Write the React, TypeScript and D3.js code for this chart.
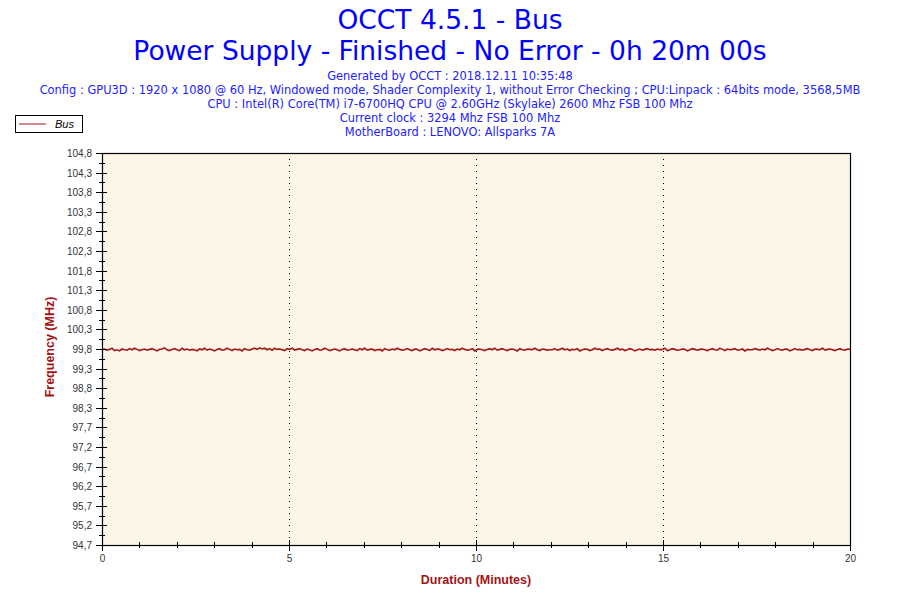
import * as d3 from "d3";

const titleLines = ["OCCT 4.5.1 - Bus", "Power Supply - Finished - No Error - 0h 20m 00s"];
const infoLines = [
  "Generated by OCCT : 2018.12.11 10:35:48",
  "Config : GPU3D : 1920 x 1080 @ 60 Hz, Windowed mode, Shader Complexity 1, without Error Checking ; CPU:Linpack : 64bits mode, 3568,5MB",
  "CPU : Intel(R) Core(TM) i7-6700HQ CPU @ 2.60GHz (Skylake) 2600 Mhz FSB 100 Mhz",
  "Current clock : 3294 Mhz FSB 100 Mhz",
  "MotherBoard : LENOVO: Allsparks 7A",
];
const seriesName = "Bus";
const xTitle = "Duration (Minutes)";
const yTitle = "Frequency (MHz)";
const xTickValues = [0, 5, 10, 15, 20];
const yTickLabels = [
  "94,7", "95,2", "95,7", "96,2", "96,7", "97,2", "97,7", "98,3", "98,8", "99,3", "99,8",
  "100,3", "100,8", "101,3", "101,8", "102,3", "102,8", "103,3", "103,8", "104,3", "104,8",
];
const yMin = 94.7;
const yMax = 104.8;
const durationMinutes = 20;

// bus clock readings, evenly spread over the 20 minutes
const busValues = [
  99.73, 99.75, 99.72, 99.74, 99.77, 99.71, 99.73, 99.70, 99.75, 99.73, 99.72, 99.76, 99.73, 99.77, 99.74, 99.71, 99.73, 99.75, 99.72, 99.74,
  99.76, 99.73, 99.70, 99.74, 99.75, 99.78, 99.73, 99.71, 99.74, 99.76, 99.73, 99.71, 99.77, 99.73, 99.75, 99.72, 99.74, 99.73, 99.70, 99.75,
  99.73, 99.77, 99.72, 99.75, 99.73, 99.70, 99.74, 99.76, 99.72, 99.73, 99.77, 99.74, 99.71, 99.75, 99.73, 99.74, 99.70, 99.76, 99.73, 99.72,
  99.75, 99.77, 99.74, 99.78, 99.75, 99.77, 99.73, 99.76, 99.72, 99.77, 99.74, 99.75, 99.73, 99.71, 99.76, 99.74, 99.77, 99.72, 99.74, 99.76,
  99.73, 99.71, 99.75, 99.73, 99.70, 99.74, 99.76, 99.72, 99.73, 99.77, 99.74, 99.71, 99.73, 99.75, 99.73, 99.70, 99.74, 99.76, 99.72, 99.73,
  99.75, 99.73, 99.71, 99.76, 99.73, 99.77, 99.72, 99.74, 99.75, 99.71, 99.73, 99.74, 99.70, 99.76, 99.73, 99.72, 99.75, 99.73, 99.77, 99.74,
  99.72, 99.73, 99.76, 99.73, 99.71, 99.75, 99.74, 99.70, 99.73, 99.76, 99.74, 99.71, 99.77, 99.73, 99.75, 99.74, 99.71, 99.73, 99.76, 99.73,
  99.74, 99.71, 99.75, 99.73, 99.77, 99.74, 99.72, 99.73, 99.76, 99.70, 99.74, 99.75, 99.73, 99.71, 99.74, 99.76, 99.73, 99.77, 99.72, 99.74,
  99.76, 99.73, 99.71, 99.74, 99.75, 99.73, 99.70, 99.76, 99.73, 99.72, 99.75, 99.74, 99.73, 99.77, 99.73, 99.71, 99.75, 99.74, 99.72, 99.73,
  99.73, 99.76, 99.72, 99.74, 99.77, 99.73, 99.75, 99.71, 99.74, 99.73, 99.76, 99.70, 99.73, 99.75, 99.74, 99.71, 99.73, 99.77, 99.74, 99.75,
  99.71, 99.74, 99.76, 99.73, 99.72, 99.74, 99.77, 99.73, 99.75, 99.71, 99.73, 99.76, 99.74, 99.70, 99.73, 99.75, 99.72, 99.74, 99.76, 99.73,
  99.74, 99.72, 99.75, 99.73, 99.74, 99.77, 99.71, 99.73, 99.76, 99.74, 99.72, 99.73, 99.75, 99.74, 99.70, 99.73, 99.76, 99.74, 99.72, 99.74,
  99.75, 99.73, 99.71, 99.74, 99.76, 99.73, 99.72, 99.77, 99.74, 99.71, 99.75, 99.73, 99.74, 99.76, 99.72, 99.73, 99.75, 99.70, 99.74, 99.73,
  99.73, 99.76, 99.74, 99.72, 99.75, 99.73, 99.77, 99.74, 99.71, 99.73, 99.76, 99.73, 99.72, 99.75, 99.74, 99.70, 99.73, 99.76, 99.73, 99.74,
  99.72, 99.74, 99.76, 99.73, 99.71, 99.75, 99.74, 99.73, 99.77, 99.72, 99.74, 99.75, 99.73, 99.71, 99.74, 99.76, 99.73, 99.72, 99.75, 99.74,
];

const width = 900;
const height = 600;
const left = 102;
const right = 850;
const top = 153;
const bottom = 545;

const titleFont = "Verdana, 'DejaVu Sans', sans-serif";
const axisFont = "Arial, 'Liberation Sans', sans-serif";
const darkRed = "#a31515";

export default function App() {
  const x = d3.scaleLinear([0, durationMinutes], [left, right]);
  const y = d3.scaleLinear([yMin, yMax], [bottom, top]);
  const yStep = (yMax - yMin) / (yTickLabels.length - 1);

  const points = busValues.map((v, i) => ({ t: (i / (busValues.length - 1)) * durationMinutes, v }));
  const line = d3
    .line<{ t: number; v: number }>()
    .x((d) => x(d.t))
    .y((d) => y(d.v));

  const minorX = d3.range(0, durationMinutes + 1).filter((t) => t % 5 !== 0);
  const minorY = d3.range(yTickLabels.length - 1).map((i) => yMin + (i + 0.5) * yStep);

  return (
    <svg
      width={width}
      height={height}
      style={{ position: "absolute", left: 0, top: 0, background: "#fff" }}
    >
      <rect x={0} y={0} width={width} height={height} fill="#fff" />

      {titleLines.map((t, i) => (
        <text
          key={t}
          x={450}
          y={29 + i * 31}
          textAnchor="middle"
          fontFamily={titleFont}
          fontSize={26.5}
          fill="#0000ff"
        >
          {t}
        </text>
      ))}
      {infoLines.map((t, i) => (
        <text
          key={t}
          x={450}
          y={80 + i * 14}
          textAnchor="middle"
          fontFamily={titleFont}
          fontSize={11.45}
          fill="#2222ff"
        >
          {t}
        </text>
      ))}

      {/* legend */}
      <rect x={15.5} y={115.5} width={67} height={17} fill="#fff" stroke="#000" />
      <line x1={19} x2={46} y1={124} y2={124} stroke={darkRed} />
      <text x={55} y={128} fontFamily={axisFont} fontSize={11} fontStyle="italic" fill="#000">
        {seriesName}
      </text>

      {/* plot area */}
      <rect x={left} y={top} width={right - left} height={bottom - top} fill="#fdf6e8" />
      {xTickValues.slice(1, -1).map((t) => (
        <line
          key={t}
          x1={x(t) + 0.5}
          x2={x(t) + 0.5}
          y1={top}
          y2={bottom}
          stroke="#000"
          strokeDasharray="1,5"
        />
      ))}

      <path d={line(points) ?? ""} fill="none" stroke={darkRed} strokeWidth={1.6} />

      <rect
        x={left + 0.5}
        y={top + 0.5}
        width={right - left}
        height={bottom - top}
        fill="none"
        stroke="#000"
        strokeWidth={1.2}
      />

      {/* y axis */}
      {yTickLabels.map((lab, i) => {
        const yy = Math.round(y(yMin + i * yStep)) + 0.5;
        return (
          <g key={lab}>
            <line x1={left - 6} x2={left + 5} y1={yy} y2={yy} stroke="#000" />
            <text
              x={92}
              y={yy + 3.5}
              textAnchor="end"
              fontFamily={axisFont}
              fontSize={10}
              fill="#333"
            >
              {lab}
            </text>
          </g>
        );
      })}
      {minorY.map((v) => {
        const yy = Math.round(y(v)) + 0.5;
        return <line key={v} x1={left - 3} x2={left + 3} y1={yy} y2={yy} stroke="#000" />;
      })}

      {/* x axis */}
      {xTickValues.map((t) => {
        const xx = Math.round(x(t)) + 0.5;
        return (
          <g key={t}>
            <line x1={xx} x2={xx} y1={bottom - 5} y2={bottom + 6} stroke="#000" />
            <text
              x={xx}
              y={562}
              textAnchor="middle"
              fontFamily={axisFont}
              fontSize={10}
              fill="#333"
            >
              {t}
            </text>
          </g>
        );
      })}
      {minorX.map((t) => {
        const xx = Math.round(x(t)) + 0.5;
        return <line key={t} x1={xx} x2={xx} y1={bottom - 3} y2={bottom + 3} stroke="#000" />;
      })}

      <text
        x={476}
        y={584}
        textAnchor="middle"
        fontFamily={axisFont}
        fontSize={12.5}
        fontWeight="bold"
        fill={darkRed}
      >
        {xTitle}
      </text>
      <text
        transform="translate(54,347) rotate(-90)"
        textAnchor="middle"
        fontFamily={axisFont}
        fontSize={12.5}
        fontWeight="bold"
        fill={darkRed}
      >
        {yTitle}
      </text>
    </svg>
  );
}
